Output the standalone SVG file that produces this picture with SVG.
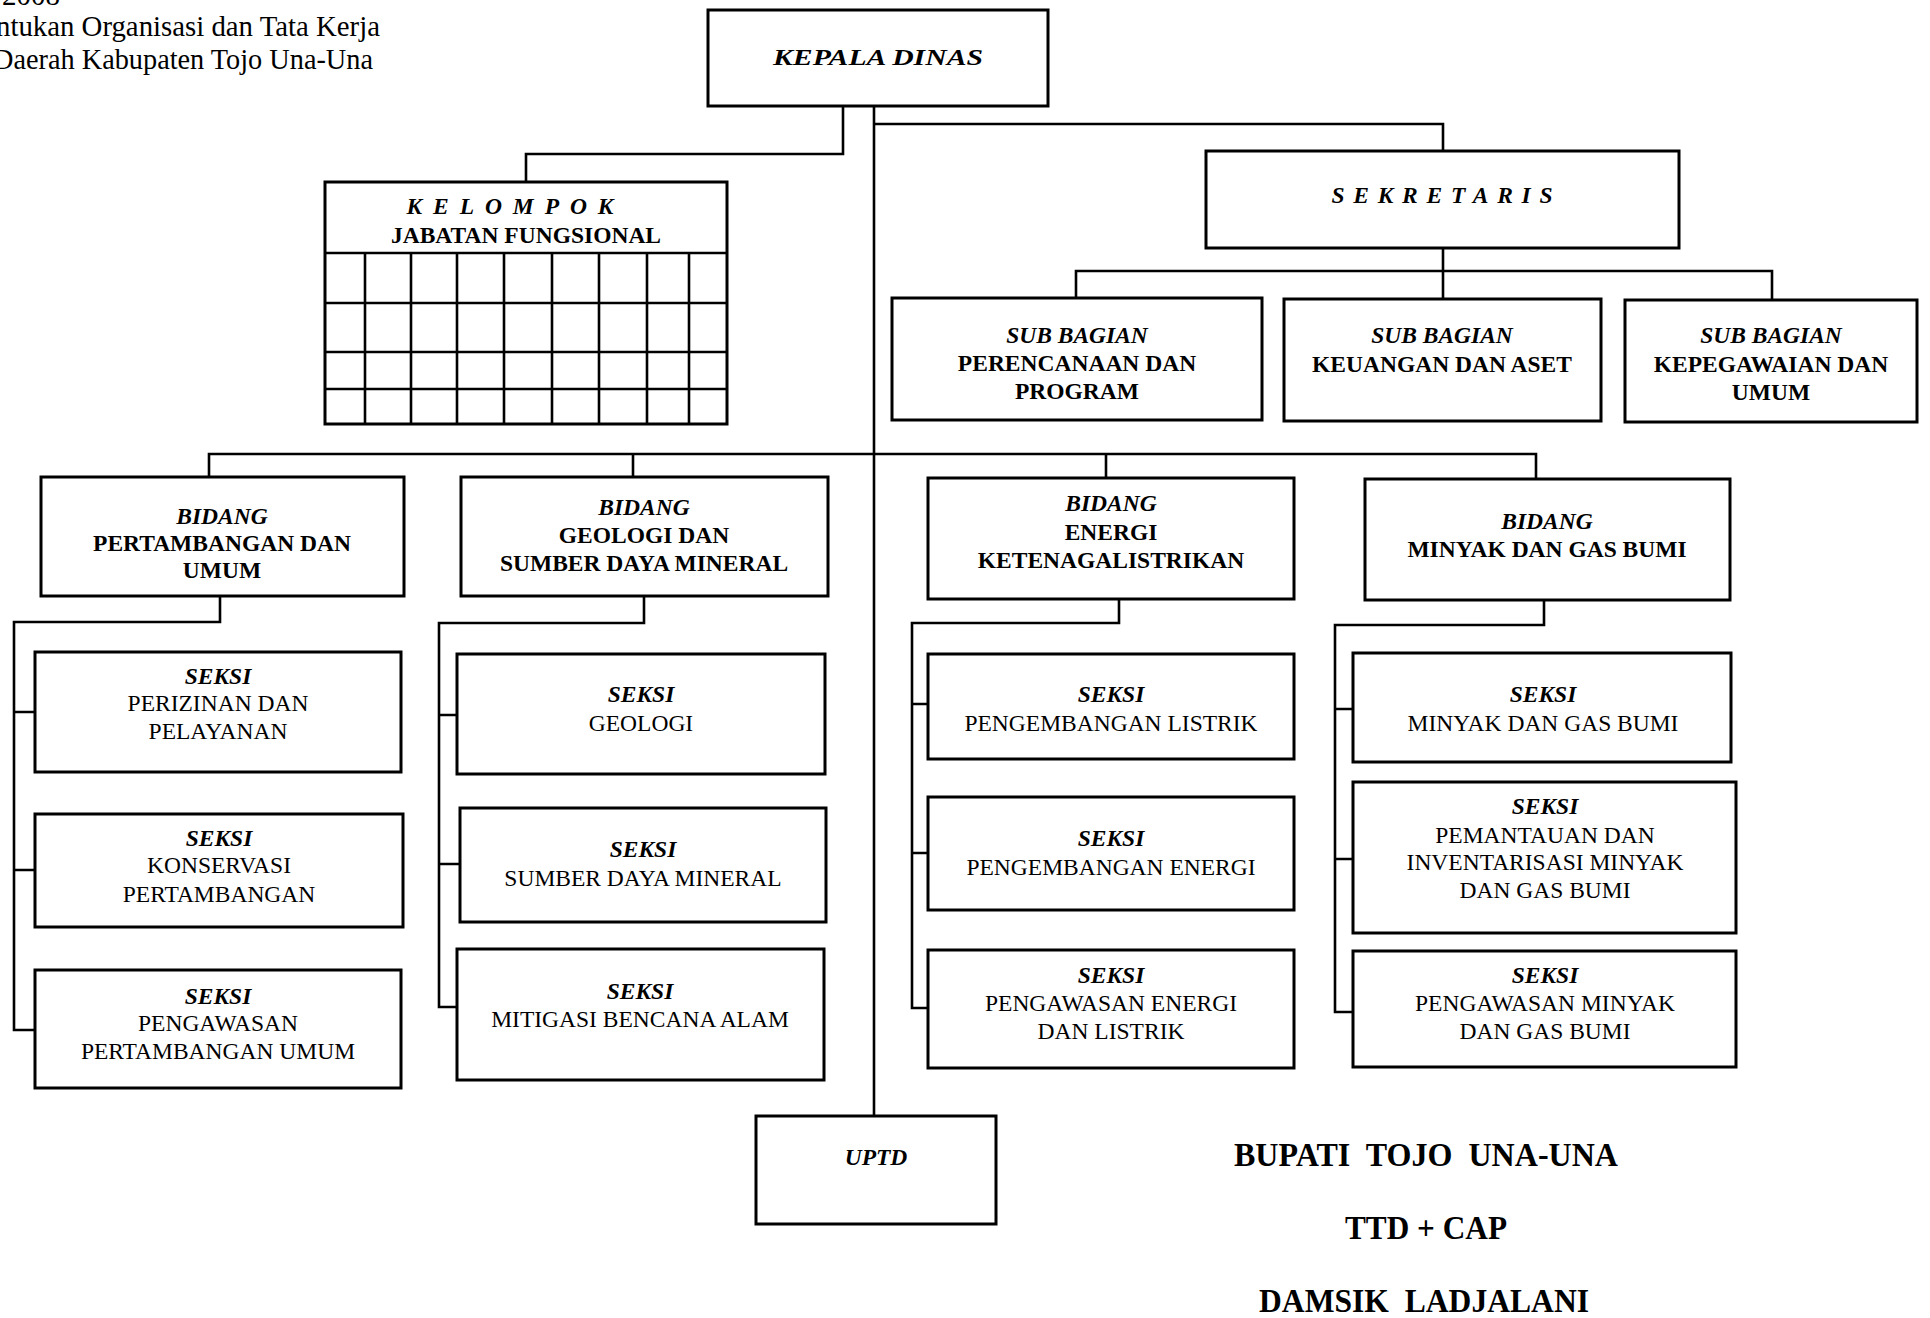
<svg xmlns="http://www.w3.org/2000/svg" width="1930" height="1318" viewBox="0 0 1930 1318">
  <style>
    .box { fill: #fff; stroke: #000; stroke-width: 3; }
    .ln { fill: none; stroke: #000; stroke-width: 2.6; }
    .grid { fill: none; stroke: #000; stroke-width: 2.6; }
    text { font-family: "Liberation Serif", "Times New Roman", serif; fill: #000; }
    .t { font-size: 23.5px; text-anchor: middle; }
    .b { font-weight: bold; }
    .bi { font-weight: bold; font-style: italic; }
    .hd { font-size: 29px; text-anchor: end; }
    .sig { font-size: 33px; font-weight: bold; text-anchor: middle; white-space: pre; }
  </style>

  <rect width="1930" height="1318" fill="#fff"/>

  <!-- header text (page top, clipped at edges) -->
  <g id="header">
    <text x="2" y="5" font-size="29">2008</text>
    <text class="hd" x="380" y="36" textLength="384" lengthAdjust="spacingAndGlyphs">ntukan Organisasi dan Tata Kerja</text>
    <text class="hd" x="373" y="69" textLength="380" lengthAdjust="spacingAndGlyphs">Daerah Kabupaten Tojo Una-Una</text>
  </g>

  <!-- connectors -->
  <g id="connectors">
    <path class="ln" d="M843,106 V154 H526 V182"/>
    <path class="ln" d="M874,106 V1116"/>
    <path class="ln" d="M874,124 H1443 V151"/>
    <path class="ln" d="M1443,248 V298"/>
    <path class="ln" d="M1076,298 V271 H1772 V300"/>
    <path class="ln" d="M209,477 V454 H1536 V479"/>
    <path class="ln" d="M633,454 V477"/>
    <path class="ln" d="M1106,454 V478"/>
    <!-- bidang pertambangan -->
    <path class="ln" d="M220,596 V622 H14 V1030 H35"/>
    <path class="ln" d="M14,712 H35 M14,870 H35"/>
    <!-- bidang geologi -->
    <path class="ln" d="M644,596 V623 H439 V1007 H457"/>
    <path class="ln" d="M439,715 H457 M439,864 H460"/>
    <!-- bidang energi -->
    <path class="ln" d="M1119,599 V623 H912 V1008 H928"/>
    <path class="ln" d="M912,704 H928 M912,853 H928"/>
    <!-- bidang migas -->
    <path class="ln" d="M1544,600 V625 H1335 V1012 H1353"/>
    <path class="ln" d="M1335,709 H1353 M1335,859 H1353"/>
  </g>

  <g id="kepala-dinas">
    <rect class="box" x="708" y="10" width="340" height="96"/>
    <text class="t bi" x="878" y="65" font-size="28" textLength="210" lengthAdjust="spacingAndGlyphs">KEPALA DINAS</text>
  </g>

  <g id="kelompok-jabatan-fungsional">
    <rect class="box" x="325" y="182" width="402" height="242"/>
    <path class="grid" d="M325,253 H727 M325,303 H727 M325,352 H727 M325,389 H727
      M365,253 V424 M411,253 V424 M457,253 V424 M504,253 V424 M552,253 V424
      M599,253 V424 M647,253 V424 M689,253 V424"/>
    <text class="t bi" x="510" y="214" textLength="207" lengthAdjust="spacing">KELOMPOK</text>
    <text class="t b" x="526" y="243">JABATAN FUNGSIONAL</text>
  </g>

  <g id="sekretaris">
    <rect class="box" x="1206" y="151" width="473" height="97"/>
    <text class="t bi" x="1442" y="203" font-size="26" textLength="221" lengthAdjust="spacing">SEKRETARIS</text>
  </g>

  <g id="sub-perencanaan">
    <rect class="box" x="892" y="298" width="370" height="122"/>
    <text class="t bi" x="1077" y="343">SUB BAGIAN</text>
    <text class="t b" x="1077" y="371">PERENCANAAN DAN</text>
    <text class="t b" x="1077" y="399">PROGRAM</text>
  </g>

  <g id="sub-keuangan">
    <rect class="box" x="1284" y="299" width="317" height="122"/>
    <text class="t bi" x="1442" y="343">SUB BAGIAN</text>
    <text class="t b" x="1442" y="372">KEUANGAN DAN ASET</text>
  </g>

  <g id="sub-kepegawaian">
    <rect class="box" x="1625" y="300" width="292" height="122"/>
    <text class="t bi" x="1771" y="343">SUB BAGIAN</text>
    <text class="t b" x="1771" y="372">KEPEGAWAIAN DAN</text>
    <text class="t b" x="1771" y="400">UMUM</text>
  </g>

  <g id="bidang-pertambangan">
    <rect class="box" x="41" y="477" width="363" height="119"/>
    <text class="t bi" x="222" y="524">BIDANG</text>
    <text class="t b" x="222" y="551">PERTAMBANGAN DAN</text>
    <text class="t b" x="222" y="578">UMUM</text>
  </g>

  <g id="bidang-geologi">
    <rect class="box" x="461" y="477" width="367" height="119"/>
    <text class="t bi" x="644" y="515">BIDANG</text>
    <text class="t b" x="644" y="543">GEOLOGI DAN</text>
    <text class="t b" x="644" y="571">SUMBER DAYA MINERAL</text>
  </g>

  <g id="bidang-energi">
    <rect class="box" x="928" y="478" width="366" height="121"/>
    <text class="t bi" x="1111" y="511">BIDANG</text>
    <text class="t b" x="1111" y="540">ENERGI</text>
    <text class="t b" x="1111" y="568">KETENAGALISTRIKAN</text>
  </g>

  <g id="bidang-migas">
    <rect class="box" x="1365" y="479" width="365" height="121"/>
    <text class="t bi" x="1547" y="529">BIDANG</text>
    <text class="t b" x="1547" y="557">MINYAK DAN GAS BUMI</text>
  </g>

  <g id="seksi-perizinan">
    <rect class="box" x="35" y="652" width="366" height="120"/>
    <text class="t bi" x="218" y="684">SEKSI</text>
    <text class="t" x="218" y="711">PERIZINAN DAN</text>
    <text class="t" x="218" y="739">PELAYANAN</text>
  </g>

  <g id="seksi-konservasi">
    <rect class="box" x="35" y="814" width="368" height="113"/>
    <text class="t bi" x="219" y="846">SEKSI</text>
    <text class="t" x="219" y="873">KONSERVASI</text>
    <text class="t" x="219" y="902">PERTAMBANGAN</text>
  </g>

  <g id="seksi-pengawasan-tambang">
    <rect class="box" x="35" y="970" width="366" height="118"/>
    <text class="t bi" x="218" y="1004">SEKSI</text>
    <text class="t" x="218" y="1031">PENGAWASAN</text>
    <text class="t" x="218" y="1059">PERTAMBANGAN UMUM</text>
  </g>

  <g id="seksi-geologi">
    <rect class="box" x="457" y="654" width="368" height="120"/>
    <text class="t bi" x="641" y="702">SEKSI</text>
    <text class="t" x="641" y="731">GEOLOGI</text>
  </g>

  <g id="seksi-sdm">
    <rect class="box" x="460" y="808" width="366" height="114"/>
    <text class="t bi" x="643" y="857">SEKSI</text>
    <text class="t" x="643" y="886">SUMBER DAYA MINERAL</text>
  </g>

  <g id="seksi-mitigasi">
    <rect class="box" x="457" y="949" width="367" height="131"/>
    <text class="t bi" x="640" y="999">SEKSI</text>
    <text class="t" x="640" y="1027">MITIGASI BENCANA ALAM</text>
  </g>

  <g id="seksi-listrik">
    <rect class="box" x="928" y="654" width="366" height="105"/>
    <text class="t bi" x="1111" y="702">SEKSI</text>
    <text class="t" x="1111" y="731">PENGEMBANGAN LISTRIK</text>
  </g>

  <g id="seksi-energi">
    <rect class="box" x="928" y="797" width="366" height="113"/>
    <text class="t bi" x="1111" y="846">SEKSI</text>
    <text class="t" x="1111" y="875">PENGEMBANGAN ENERGI</text>
  </g>

  <g id="seksi-pengawasan-energi">
    <rect class="box" x="928" y="950" width="366" height="118"/>
    <text class="t bi" x="1111" y="983">SEKSI</text>
    <text class="t" x="1111" y="1011">PENGAWASAN ENERGI</text>
    <text class="t" x="1111" y="1039">DAN LISTRIK</text>
  </g>

  <g id="seksi-migas">
    <rect class="box" x="1353" y="653" width="378" height="109"/>
    <text class="t bi" x="1543" y="702">SEKSI</text>
    <text class="t" x="1543" y="731">MINYAK DAN GAS BUMI</text>
  </g>

  <g id="seksi-pemantauan">
    <rect class="box" x="1353" y="782" width="383" height="151"/>
    <text class="t bi" x="1545" y="814">SEKSI</text>
    <text class="t" x="1545" y="843">PEMANTAUAN DAN</text>
    <text class="t" x="1545" y="870">INVENTARISASI MINYAK</text>
    <text class="t" x="1545" y="898">DAN GAS BUMI</text>
  </g>

  <g id="seksi-pengawasan-migas">
    <rect class="box" x="1353" y="951" width="383" height="116"/>
    <text class="t bi" x="1545" y="983">SEKSI</text>
    <text class="t" x="1545" y="1011">PENGAWASAN MINYAK</text>
    <text class="t" x="1545" y="1039">DAN GAS BUMI</text>
  </g>

  <g id="uptd">
    <rect class="box" x="756" y="1116" width="240" height="108"/>
    <text class="t bi" x="876" y="1165" font-size="19">UPTD</text>
  </g>

  <!-- signature block -->
  <g id="signature">
    <text class="sig" x="1426" y="1166" textLength="384" lengthAdjust="spacingAndGlyphs">BUPATI  TOJO  UNA-UNA</text>
    <text class="sig" x="1426" y="1239" textLength="162" lengthAdjust="spacingAndGlyphs">TTD + CAP</text>
    <text class="sig" x="1424" y="1312" textLength="330" lengthAdjust="spacingAndGlyphs">DAMSIK  LADJALANI</text>
  </g>
</svg>
